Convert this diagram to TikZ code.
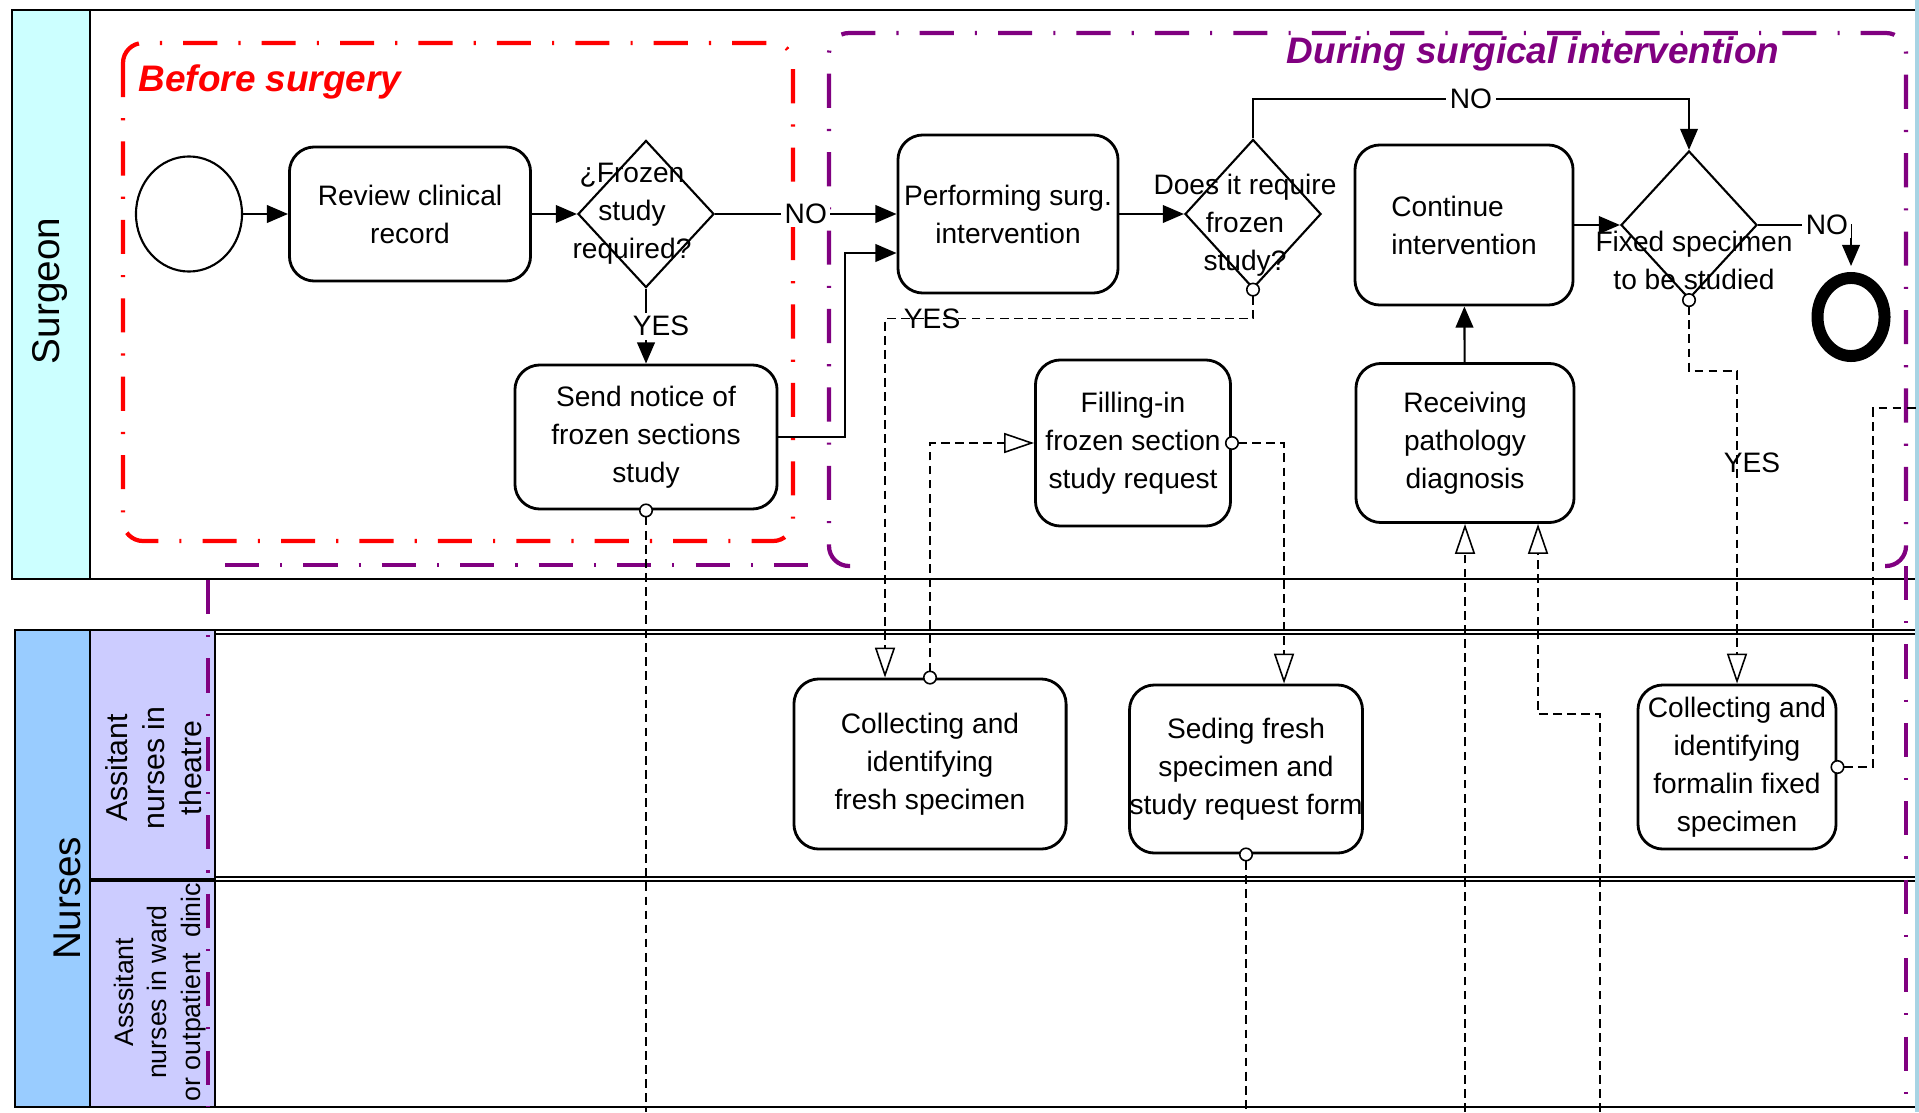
\documentclass[tikz,border=0pt]{standalone}
\usepackage{fontspec}
\setmainfont{Liberation Sans}
\usetikzlibrary{positioning, arrows.meta, calc, shapes.geometric}
\definecolor{surgcyan}{HTML}{CCFFFF}
\definecolor{nursblue}{HTML}{99CCFF}
\definecolor{lanelav}{HTML}{CCCCFF}
\definecolor{phasered}{HTML}{FF0000}
\definecolor{phasepurple}{HTML}{800080}
\definecolor{edgeblue}{HTML}{A8D4E4}
\newcommand\nodefont{\fontsize{8}{10.8}\selectfont}
\newcommand\phasefont{\fontsize{10.5}{12}\selectfont\bfseries\itshape}
\tikzset{
  pool/.style={line width=0.8pt},
  lanesep/.style={line width=0.5pt},
  task/.style={draw, rounded corners=0.25cm, fill=white, line width=0.8pt, inner sep=0pt, align=center, font=\nodefont},
  gateway/.style={draw, diamond, fill=white, line width=0.6pt, inner sep=0pt, minimum width=1.36cm},
  gatetext/.style={font=\nodefont, align=center},
  startev/.style={draw, ellipse, fill=white, line width=0.6pt, minimum width=1.06cm, minimum height=1.15cm},
  endev/.style={draw, ellipse, fill=white, line width=3.4pt, minimum width=0.67cm, minimum height=0.78cm},
  phasebox/.style={line width=1.2pt, dash pattern=on 9.7pt off 6pt on 0.6pt off 6pt, rounded corners=0.2cm},
  seqflow/.style={line width=0.6pt, -{Triangle[length=6pt,width=5pt]}},
  flowlabel/.style={font=\nodefont, inner sep=1pt},
  msgline/.style={line width=0.45pt, dash pattern=on 2.5pt off 1.5pt},
  msgflow/.style={msgline, {Circle[fill=white,length=4pt,width=4pt]}-{Triangle[open,length=8.5pt,width=5.7pt]}, shorten <=-2pt},
  msgsrc/.style={msgline, {Circle[fill=white,length=4pt,width=4pt]}-, shorten <=-2pt},
  msgin/.style={msgline, -{Triangle[open,length=8.5pt,width=5.7pt]}},
}

\begin{document}
\begin{tikzpicture}[x=0.01cm, y=-0.01cm]
  \useasboundingbox (0,0) rectangle (1919,1112);
  \fill[edgeblue] (1915,0) rectangle (1919,1112);
  % pools and lanes
  \fill[white] (12,10) rectangle (1915,579);
  \draw[pool, fill=surgcyan] (12,10) rectangle (90,579);
  \draw[pool] (1915,10) -- (12,10) -- (12,579) -- (1915,579);
  \node[rotate=90, font=\fontsize{11}{13}\selectfont] (surgeon) at (50,291) {Surgeon};
  \draw[pool, fill=nursblue] (15,630) rectangle (90,1107);
  \draw[pool, fill=lanelav] (90,630) rectangle (215,879);
  \draw[pool, fill=lanelav] (90,881) rectangle (215,1107);
  \draw[pool] (215,1107) -- (1915,1107);
  \foreach \yy in {630,634,877,881}
    \draw[lanesep] (215,\yy) -- (1915,\yy);
  \node[rotate=90, font=\fontsize{11}{13}\selectfont] (nurses) at (67,898) {Nurses};
  \node[rotate=90, align=center, font=\fontsize{8.6}{10.5}\selectfont] (theatre) at (154,768) {Assitant\\nurses in\\theatre};
  \node[rotate=90, align=center, font=\fontsize{7.6}{9.6}\selectfont] (ward) at (160,992) {Asssitant\\nurses in ward\\or outpatient~~dinic};

  % phases
  \draw[phasebox, phasered] (123,43) rectangle (793,541);
  \node[font=\phasefont, text=phasered, anchor=west, inner sep=0pt] (before) at (138,82) {Before surgery};
  \draw[phasebox, phasepurple] (850,566) -- (829,566) -- (829,33) -- (1906,33) -- (1906,566) -- (1885,566);
  \draw[phasebox, phasepurple] (225,565) -- (829,565);
  \draw[phasebox, phasepurple] (208,580) -- (208,1107);
  \draw[phasebox, phasepurple] (1906,566) -- (1906,1107);
  \node[font=\phasefont, text=phasepurple, inner sep=0pt] (during) at (1533,54) {During surgical intervention};

  % surgeon
  \node[startev] (start) at (189,214) {};
  \node[task, minimum width=2.41cm, minimum height=1.34cm] (review) at (410,214) {Review clinical\\record};
  \node[gateway, minimum height=1.47cm,
    label={[gatetext, xshift=-0.14cm]center:{¿Frozen\\study\\required?}}] (frozen) at (646,214) {};
  \node[task, minimum width=2.62cm, minimum height=1.44cm] (notice) at (646,437) {Send notice of\\frozen sections\\study};
  \node[task, minimum width=2.20cm, minimum height=1.58cm] (perform) at (1008,214) {Performing surg.\\intervention};
  \node[gateway, minimum height=1.49cm,
    label={[gatetext, xshift=-0.08cm, yshift=-0.11cm]center:{Does it require\\frozen\\study?}}] (require) at (1253,214) {};
  \node[task, minimum width=2.18cm, minimum height=1.60cm, align=left] (contin) at (1464,225) {Continue\\intervention};
  \node[gateway, minimum height=1.48cm,
    label={[gatetext, xshift=0.05cm, yshift=-0.35cm]center:{Fixed specimen\\to be studied}}] (fixed) at (1689,225) {};
  \node[endev] (finish) at (1851,317) {};
  \node[task, minimum width=1.95cm, minimum height=1.66cm] (filling) at (1133,443) {Filling-in\\frozen section\\study request};
  \node[task, minimum width=2.18cm, minimum height=1.59cm] (receiving) at (1465,443) {Receiving\\pathology\\diagnosis};

  % nurses
  \node[task, minimum width=2.72cm, minimum height=1.70cm] (collfresh) at (930,764) {Collecting and\\identifying\\fresh specimen};
  \node[task, minimum width=2.28cm, minimum height=1.68cm] (sending) at (1246,769) {Seding fresh\\specimen and\\study request form};
  \node[task, minimum width=1.98cm, minimum height=1.64cm] (collfixed) at (1737,767) {Collecting and\\identifying\\formalin fixed\\specimen};

  % sequence flows
  \draw[seqflow] (start) -- (review);
  \draw[seqflow] (review) -- (frozen);
  \draw[seqflow] (frozen) -- node[flowlabel, fill=white] {NO} (perform);
  \draw[seqflow] (frozen) -- node[flowlabel, fill=white, xshift=0.15cm] {YES} (notice);
  \draw[seqflow] (notice.east) -- (845,437) |- (perform.west |- 0,253);
  \draw[seqflow] (perform) -- (require);
  \draw[seqflow] (require.north) -- (1253,99) -- node[flowlabel, fill=white] {NO} (1689,99) -- (fixed.north);
  \draw[seqflow] (contin) -- (fixed);
  \draw[seqflow, shorten >=1.7pt] (fixed.east) -| node[flowlabel, fill=white, pos=0.37] {NO} (finish.north);
  \draw[seqflow] (receiving) -- (contin);

  % message flows
  \coordinate (fromward1) at (1465,1112);
  \coordinate (fromward2) at (1600,1112);
  \coordinate (toright) at (1919,408);
  \draw[msgflow] (require.south) -- ++(0,29) -| node[flowlabel, pos=0.436] {YES} ($(collfresh.north)+(-45,0)$);
  \draw[msgflow] (collfresh.north) |- (filling.west);
  \draw[msgflow] (filling.east) -| ($(sending.north)+(38,0)$);
  \draw[msgsrc] (notice.south) -- (notice.south |- 0,1112);
  \draw[msgsrc] (sending.south) -- (sending.south |- 0,1112);
  \draw[msgin] (fromward1) -- (receiving.south);
  \draw[msgin] (fromward2) |- ($(receiving.south)+(73,190)$) -- ($(receiving.south)+(73,0)$);
  \draw[msgflow] (fixed.south) -- ++(0,71) -| node[flowlabel, pos=0.646, xshift=0.15cm] {YES} (collfixed.north);
  \draw[msgsrc] (collfixed.east) -| (1873,408) -- (toright);
\end{tikzpicture}
\end{document}
